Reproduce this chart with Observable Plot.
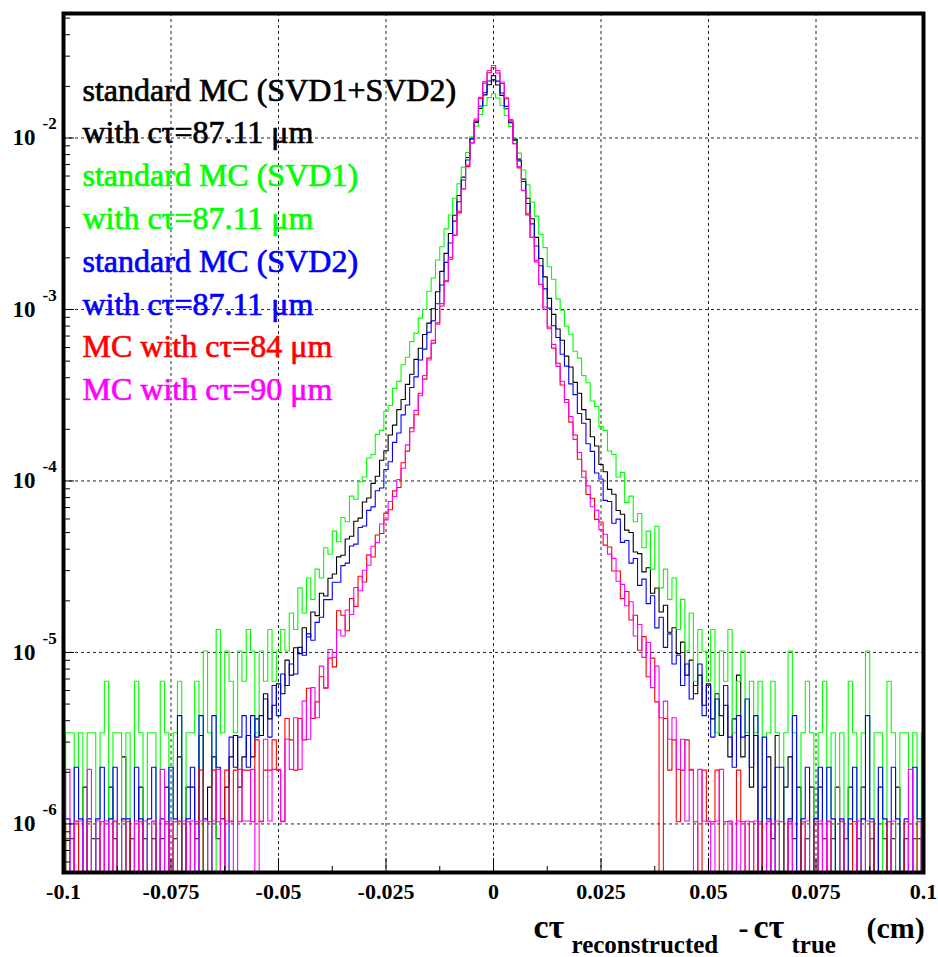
<!DOCTYPE html>
<html><head><meta charset="utf-8">
<script src="https://cdn.jsdelivr.net/npm/d3@7"></script>
<script src="https://cdn.jsdelivr.net/npm/@observablehq/plot@0.6"></script>
<style>body{margin:0;background:#fff} svg{display:block}</style>
</head><body><div id="chart"></div>
<script>
// ---------------- data ----------------
// histogram: 201 bins of width 0.001 cm, centred on -0.1 ... 0.1
const binFirstCentre = -0.1;
const binWidth = 0.001;
// counts per bin, listed outward from 0 (d = 1..100 bins), plus the central bin
// value of one entry (normalisation per series)
const unitBlack = 0.82e-6, unitGreen = 3.4e-6, unitBlue = 1.07e-6, unitRed = 1.03e-6, unitMagenta = 1.04e-6;

const blackPeak = 26600;
const blackLeft = [24900,21750,18150,15020,12030,9380,7210,5630,4320,3380,
2590,2035,1548,1232,1015,872,725,624,511,446,
364,318,258,226,183,161,130,118,97,92,
74,71,58,56,45,44,35,33,26,27,
20,21,15,17,12,13,9,11,7,8,
6,5,7,4,5,3,4,3,2,4,
3,2,0,1,3,2,0,4,1,2,
2,0,3,1,0,2,1,0,1,0,
1,2,0,1,0,3,0,1,2,0,
0,1,1,0,2,0,0,1,1,0];
const blackRight = [24850,21600,18050,14950,11850,9180,7020,5430,4120,3210,
2420,1890,1415,1142,938,806,652,563,458,396,
318,279,221,195,152,138,109,102,82,78,
63,61,47,46,36,38,27,29,21,23,
16,17,12,14,9,11,7,9,6,8,
5,7,4,6,3,5,9,3,4,2,
4,0,2,3,1,4,0,2,3,1,
2,0,1,2,0,2,1,0,1,2,
0,1,2,0,1,2,0,1,0,2,
1,0,1,2,0,1,0,1,1,0];

const greenPeak = 5330;
const greenLeft = [5060,4540,4030,3440,2990,2420,1990,1590,1310,1045,
868,683,571,449,376,294,262,214,191,155,
140,112,102,81,75,58,55,42,40,31,
29,23,24,17,18,13,15,11,12,8,
9,6,8,5,7,4,5,3,4,3,
2,4,2,3,1,3,4,2,3,1,
2,3,1,4,0,1,3,0,2,1,
1,0,2,1,0,1,2,0,1,1,
0,1,2,0,1,0,1,1,0,2,
1,0,1,1,0,1,0,1,1,0];
const greenRight = [5030,4550,3975,3430,2915,2400,1915,1570,1245,1030,
808,675,522,441,339,291,235,211,168,153,
121,110,86,80,61,58,44,42,31,33,
22,24,17,19,12,15,9,16,7,9,
6,8,4,6,3,5,2,4,3,2,
4,1,3,2,4,1,2,3,1,2,
1,2,0,1,2,1,0,1,3,1,
0,1,2,1,0,1,2,0,1,0,
1,0,2,1,0,1,3,0,1,1,
0,2,1,0,1,1,0,1,0,1];

const bluePeak = 21600;
const blueLeft = [20100,17150,14350,11600,9270,6950,5320,3970,3060,2280,
1760,1298,1010,802,688,549,474,378,328,259,
227,178,157,121,109,85,82,66,63,51,
50,40,39,31,30,24,24,19,19,15,
14,11,12,9,10,7,8,6,7,4,
6,3,5,4,3,4,2,4,3,2,
3,0,1,2,4,0,1,4,0,2,
1,0,4,1,2,0,1,0,2,1,
0,1,2,0,1,1,0,2,1,0,
2,1,0,1,0,1,2,0,1,1];
const blueRight = [20050,17100,14280,11520,9180,6870,5210,3880,2950,2190,
1680,1232,952,751,642,512,437,344,298,231,
203,154,139,104,96,72,71,53,56,41,
42,31,33,23,25,18,20,13,15,10,
12,8,9,6,8,5,6,8,4,6,
3,5,4,6,3,2,4,3,5,2,
4,0,3,1,0,2,2,0,1,4,
0,1,2,0,1,2,0,2,1,0,
1,0,1,2,0,1,4,1,0,2,
1,0,2,1,0,1,0,2,1,0];

const redPeak = 24950;
const redLeft = [23300,20250,16520,12330,9080,6610,4890,3550,2640,1905,
1425,1018,812,618,505,381,315,236,198,145,
124,89,85,66,63,48,47,35,36,25,
27,18,20,13,16,17,8,9,6,7,
5,4,6,3,4,2,3,4,1,2,
3,2,2,1,3,1,2,2,1,2,
1,2,0,1,2,1,0,2,1,0,
1,0,1,1,0,1,0,0,1,0,
0,1,0,0,1,0,0,1,0,0,
1,0,0,1,0,0,1,0,0,1];
const redRight = [23250,20180,16430,12220,8980,6500,4790,3460,2560,1835,
1362,972,768,578,472,352,290,214,180,130,
111,81,77,58,56,41,40,29,29,20,
22,15,16,10,12,7,9,5,0,4,
2,3,1,2,3,2,1,0,2,1,
1,2,0,1,1,0,2,1,0,1,
0,1,0,1,0,0,1,0,1,0,
0,1,0,0,1,0,0,1,0,0,
1,0,0,1,0,0,0,1,0,0,
0,1,0,0,0,1,0,0,1,0];

const magentaPeak = 25470;
const magentaLeft = [23800,20500,16600,12400,9000,6680,4850,3590,2600,1935,
1395,1040,790,635,488,396,302,248,186,156,
114,98,78,73,57,54,42,40,31,29,
22,23,16,17,12,13,9,10,6,8,
4,6,3,5,2,4,2,3,1,2,
2,1,3,1,0,2,1,1,2,0,
1,1,0,2,1,0,1,1,0,1,
0,1,1,0,1,0,2,0,1,0,
1,0,1,0,0,1,0,1,0,1,
0,1,0,2,0,1,1,0,2,1];
const magentaRight = [23750,20400,16480,12300,8920,6550,4760,3500,2530,1860,
1340,995,742,602,448,367,276,228,168,141,
101,90,68,65,50,47,36,34,25,24,
18,19,12,14,9,11,6,8,4,5,
3,4,2,3,1,2,0,2,1,1,
0,1,2,0,1,0,1,0,1,0,
1,0,0,1,0,1,0,0,1,0,
0,0,1,0,0,1,0,1,0,0,
1,0,0,0,1,0,1,0,0,0,
0,0,1,0,0,0,2,0,0,1];

// axes
const xMajor = [-0.1,-0.075,-0.05,-0.025,0,0.025,0.05,0.075,0.1];
const xLabels = ["-0.1","-0.075","-0.05","-0.025","0","0.025","0.05","0.075","0.1"];
const xMinor = [-0.0875,-0.0625,-0.0375,-0.0125,0.0125,0.0375,0.0625,0.0875];
const xGrid = [-0.075,-0.05,-0.025,0,0.025,0.05,0.075];
const yDecades = [1e-6,1e-5,1e-4,1e-3,1e-2];
const yExponents = ["-6","-5","-4","-3","-2"];
const yMinor = [6e-7,7e-7,8e-7,9e-7,
 2e-6,3e-6,4e-6,5e-6,6e-6,7e-6,8e-6,9e-6,
 2e-5,3e-5,4e-5,5e-5,6e-5,7e-5,8e-5,9e-5,
 2e-4,3e-4,4e-4,5e-4,6e-4,7e-4,8e-4,9e-4,
 2e-3,3e-3,4e-3,5e-3,6e-3,7e-3,8e-3,9e-3,
 2e-2,3e-2,4e-2,5e-2];

// legend
const legendTexts = ["standard MC (SVD1+SVD2)","with cτ=87.11 μm","standard MC (SVD1)","with cτ=87.11 μm",
  "standard MC (SVD2)","with cτ=87.11 μm","MC with cτ=84 μm","MC with cτ=90 μm"];
const legendColors = ["#000000","#000000","#00ff00","#00ff00","#0000ff","#0000ff","#ff0000","#ff00ff"];

const series = [
  {name:"black", color:"#000000", peak:blackPeak, left:blackLeft, right:blackRight, unit:unitBlack},
  {name:"green", color:"#00ff00", peak:greenPeak, left:greenLeft, right:greenRight, unit:unitGreen},
  {name:"blue", color:"#0000ff", peak:bluePeak, left:blueLeft, right:blueRight, unit:unitBlue},
  {name:"red", color:"#ff0000", peak:redPeak, left:redLeft, right:redRight, unit:unitRed},
  {name:"magenta", color:"#ff00ff", peak:magentaPeak, left:magentaLeft, right:magentaRight, unit:unitMagenta}
];

// ---------------- drawing ----------------
const yMin = 5.21e-7, yMax = 0.0532, yFloor = 1e-8;
const fontSerif = "Liberation Serif, Times New Roman, DejaVu Serif, serif";

function outline(s) {
  const counts = [...s.left.slice().reverse(), s.peak, ...s.right];
  const pts = counts.map((c, i) => ({
    x: binFirstCentre + (i - 0.5) * binWidth,
    y: c > 0 ? c * s.unit : yFloor
  }));
  const last = pts[pts.length - 1];
  pts.push({x: binFirstCentre + (counts.length - 0.5) * binWidth, y: last.y});
  return pts;
}

const marks = [];
// grid
marks.push(Plot.ruleX(xGrid, {x: d => d, stroke: "#000", strokeWidth: 1, strokeDasharray: "3,3", strokeOpacity: 0.85}));
marks.push(Plot.ruleY(yDecades, {y: d => d, stroke: "#000", strokeWidth: 1, strokeDasharray: "3,3", strokeOpacity: 0.85}));
// histograms
for (const s of series) {
  marks.push(Plot.line(outline(s), {x: "x", y: "y", stroke: s.color, strokeWidth: 1.1, curve: "step-after", clip: true}));
}
// ticks (inside the frame)
marks.push(Plot.tickX(xMajor, {x: d => d, stroke: "#000", strokeWidth: 1, insetTop: 859 - 14}));
marks.push(Plot.tickX(xMinor, {x: d => d, stroke: "#000", strokeWidth: 1, insetTop: 859 - 6}));
marks.push(Plot.tickY(yDecades, {y: d => d, stroke: "#000", strokeWidth: 1, insetRight: 860 - 11}));
marks.push(Plot.tickY(yMinor, {y: d => d, stroke: "#000", strokeWidth: 1, insetRight: 860 - 7}));
// frame
marks.push(Plot.frame({stroke: "#000", strokeWidth: 4}));
// x tick labels
marks.push(Plot.text(xMajor, {x: d => d, text: (d, i) => xLabels[i], frameAnchor: "bottom", dy: 26, lineAnchor: "bottom",
  fontSize: 22, fontWeight: "bold", fontFamily: fontSerif, fill: "#000"}));
// y tick labels "10" with exponent
marks.push(Plot.text(yDecades, {y: d => d, text: () => "10", frameAnchor: "left", dx: -28, textAnchor: "end",
  fontSize: 23, fontWeight: "bold", fontFamily: fontSerif, fill: "#000"}));
marks.push(Plot.text(yDecades, {y: d => d, text: (d, i) => yExponents[i], frameAnchor: "left", dx: -21, dy: -14, textAnchor: "start",
  fontSize: 17, fontWeight: "bold", fontFamily: fontSerif, fill: "#000"}));
// legend
const legendBaselines = [100, 142.7, 185.4, 228.1, 271.4, 314.1, 356.8, 399.5];
legendTexts.forEach((t, i) => {
  marks.push(Plot.text([t], {text: d => d, frameAnchor: "top-left", dx: 19, dy: legendBaselines[i] - 13, lineAnchor: "bottom",
    textAnchor: "start", fontSize: 32, fontFamily: fontSerif, fill: legendColors[i],
    stroke: legendColors[i], strokeWidth: 0.7, paintOrder: "stroke"}));
});
// axis title pieces
const titlePieces = [
  {t: "cτ", x: 533, y: 937, size: 34},
  {t: "reconstructed", x: 571, y: 952, size: 25},
  {t: "-", x: 738, y: 937, size: 30},
  {t: "cτ", x: 753, y: 937, size: 34},
  {t: "true", x: 791, y: 952, size: 25},
  {t: "(cm)", x: 866, y: 937, size: 30}
];
for (const p of titlePieces) {
  marks.push(Plot.text([p.t], {text: d => d, frameAnchor: "bottom-left", dx: p.x - 63, dy: p.y - 872, lineAnchor: "bottom",
    textAnchor: "start", fontSize: p.size, fontWeight: "bold", fontFamily: fontSerif, fill: "#000"}));
}

const svg = Plot.plot({
  width: 938, height: 957,
  marginLeft: 63, marginRight: 15, marginTop: 13, marginBottom: 85,
  x: {domain: [-0.1, 0.1], axis: null},
  y: {type: "log", domain: [yMin, yMax], axis: null},
  style: {background: "#fff", overflow: "visible"},
  marks
});
document.getElementById("chart").appendChild(svg);
</script></body></html>
